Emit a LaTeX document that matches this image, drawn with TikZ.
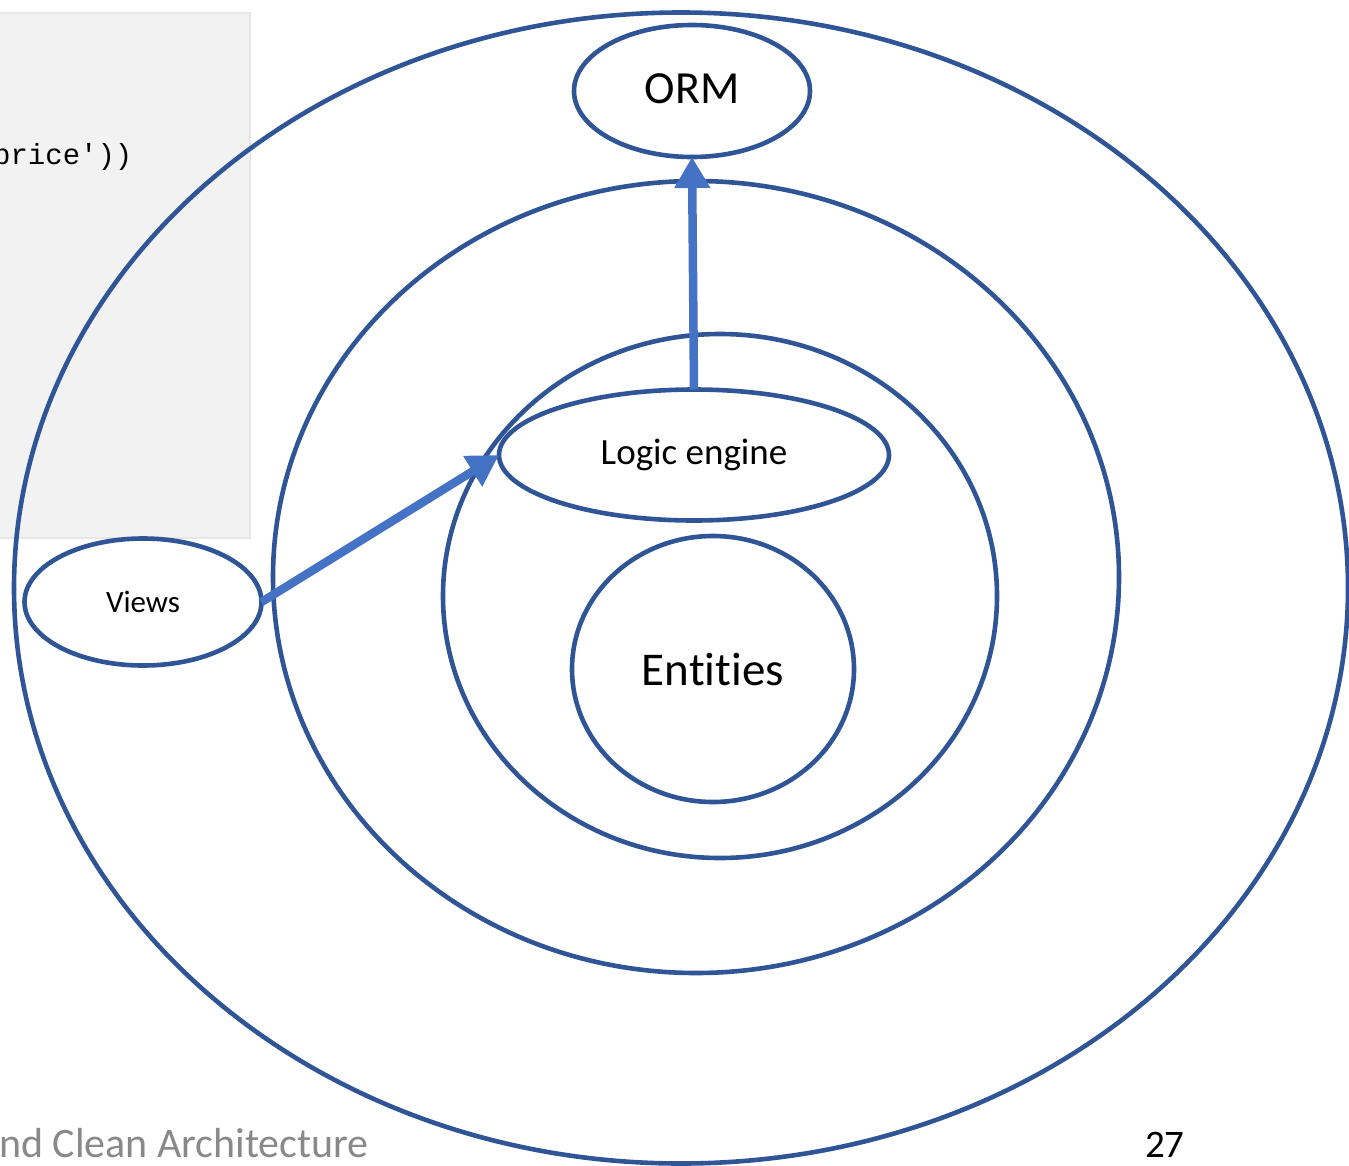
\documentclass[tikz,border=0pt]{standalone}
\usepackage{fontspec}
\setmainfont{Carlito}[Ligatures=CommonOff]
\setmonofont{Liberation Mono}
\usetikzlibrary{shapes.geometric,arrows.meta}
\definecolor{ringblue}{HTML}{2F5597}
\definecolor{arrowblue}{HTML}{4472C4}
\definecolor{codebg}{HTML}{F2F2F2}
\definecolor{codeframe}{HTML}{E6E6E6}
\definecolor{footgray}{HTML}{898989}
\tikzset{
  ring/.style={ellipse, draw=ringblue, line width=4.6pt, inner sep=0pt, outer sep=0pt},
  unit/.style={ring, fill=white},
  dep/.style={draw=arrowblue, line width=8.5pt,
    -{Triangle[length=31pt,width=34pt]}},
}
\begin{document}
\begin{tikzpicture}[x=1pt,y=-1pt]
\useasboundingbox (0,0) rectangle (1349,1165);
% code listing panel in the background
\node[fill=codebg, draw=codeframe, line width=1.5pt, minimum width=260pt, minimum height=525pt, anchor=north west, inner sep=0pt] (code) at (-11,12) {};
\node[anchor=base west, inner sep=0pt, font=\fontsize{29}{32}\selectfont\ttfamily] (codeline) at (-7,164) {price'))};
% concentric layers
\node[ring, minimum width=1334pt, minimum height=1151pt] (outer) at (681,588) {};
\node[ring, minimum width=846pt, minimum height=792pt] (middle) at (696,577) {};
\node[ring, minimum width=554pt, minimum height=524pt] (inner) at (720,596) {};
% components
\node[unit, minimum width=282pt, minimum height=266pt, font=\fontsize{47}{52}\selectfont] (entities) at (713,669) {Entities};
\node[unit, minimum width=390pt, minimum height=131pt, font=\fontsize{37}{42}\selectfont] (logic) at (694,455) {Logic engine};
\node[unit, minimum width=236pt, minimum height=132pt, font=\fontsize{46}{52}\selectfont] (orm) at (692,91) {\raisebox{4pt}{ORM}};
\node[unit, minimum width=237pt, minimum height=127pt, font=\fontsize{31}{35}\selectfont] (views) at (143,602) {Views};
% dependencies
\draw[dep] (logic.north) -- (orm.south);
\draw[dep] (views.east) -- (logic.west);
% footer
\node[anchor=base west, inner sep=0pt, text=footgray, font=\fontsize{42}{47}\selectfont] (foot) at (-1,1157) {nd Clean Architecture};
\node[anchor=base west, inner sep=0pt, font=\fontsize{39}{44}\selectfont] (page) at (1145,1157) {27};
\end{tikzpicture}
\end{document}
